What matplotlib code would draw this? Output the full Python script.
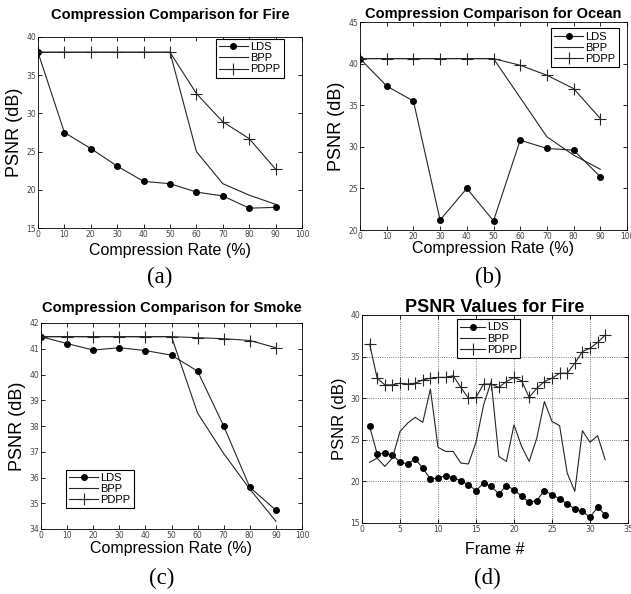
import matplotlib
matplotlib.use("Agg")
import matplotlib.pyplot as plt

# compression rates (%) for panels a-c
rates = [0, 10, 20, 30, 40, 50, 60, 70, 80, 90]

# (a) fire
fire_lds = [38.0, 27.5, 25.4, 23.1, 21.1, 20.8, 19.7, 19.2, 17.6, 17.7]
fire_bpp = [38.0, 38.0, 38.0, 38.0, 38.0, 38.0, 25.0, 20.8, 19.3, 18.1]
fire_pdpp = [38.0, 38.0, 38.0, 38.0, 38.0, 38.0, 32.6, 28.9, 26.7, 22.7]

# (b) ocean
ocean_lds = [40.6, 37.3, 35.5, 21.2, 25.0, 21.1, 30.8, 29.8, 29.6, 26.4]
ocean_bpp = [40.6, 40.6, 40.6, 40.6, 40.6, 40.6, 35.9, 31.2, 29.0, 27.3]
ocean_pdpp = [40.6, 40.6, 40.6, 40.6, 40.6, 40.6, 39.8, 38.6, 37.0, 33.4]

# (c) smoke
smoke_lds = [41.47, 41.2, 40.95, 41.04, 40.93, 40.75, 40.13, 38.0, 35.62, 34.73]
smoke_bpp = [41.47, 41.47, 41.47, 41.47, 41.47, 41.47, 38.5, 36.93, 35.55, 34.3]
smoke_pdpp = [41.47, 41.47, 41.47, 41.47, 41.47, 41.47, 41.43, 41.39, 41.32, 41.04]

# (d) per-frame PSNR for fire
frames = list(range(1, 33))
frame_lds = [26.6, 23.3, 23.4, 23.2, 22.3, 22.1, 22.7, 21.6, 20.3, 20.4,
             20.7, 20.4, 20.1, 19.6, 18.9, 19.8, 19.4, 18.5, 19.5, 19.0,
             18.2, 17.5, 17.7, 18.9, 18.4, 17.9, 17.3, 16.7, 16.4, 15.7,
             16.9, 16.0]
frame_bpp = [22.3, 22.8, 21.8, 22.8, 26.0, 27.0, 27.7, 27.1, 31.1, 24.1,
             23.6, 23.6, 22.2, 22.1, 24.7, 29.2, 32.0, 23.0, 22.4, 26.8,
             24.2, 22.4, 25.2, 29.6, 27.2, 26.7, 21.0, 18.8, 26.1, 24.7,
             25.5, 22.6]
frame_pdpp = [36.5, 32.4, 31.6, 31.6, 31.8, 31.7, 31.8, 32.2, 32.4, 32.5,
              32.5, 32.7, 31.3, 30.0, 30.1, 31.7, 31.7, 31.3, 32.0, 32.5,
              32.1, 30.1, 31.2, 32.0, 32.4, 33.0, 33.0, 34.2, 35.6, 36.0,
              36.7, 37.6]

W, H = 631, 594
LC = "#262626"


def px_axes(fig, left, top, right, bottom):
    return fig.add_axes([left / W, (H - bottom) / H, (right - left) / W, (bottom - top) / H])


def draw_series(ax, x, lds, bpp, pdpp):
    ax.plot(x, lds, color=LC, lw=0.8, marker="o", ms=4, mfc="black", mec="black", label="LDS")
    ax.plot(x, bpp, color=LC, lw=0.8, label="BPP")
    ax.plot(x, pdpp, color=LC, lw=0.8, marker="+", ms=8.5, mew=0.8, label="PDPP")


def style(ax, title, title_size, pad, xlabel, xpad, ylab_size):
    ax.set_title(title, fontsize=title_size, fontweight="bold", pad=pad, family="Liberation Sans")
    ax.set_xlabel(xlabel, fontsize=11.5, labelpad=xpad, family="Liberation Sans")
    ax.set_ylabel("PSNR (dB)", fontsize=ylab_size, labelpad=2, family="Liberation Sans")
    ax.tick_params(direction="in", top=True, right=True, labelsize=5.5, length=3, width=0.6,
                   pad=1.5, labelcolor="#444444")
    for s in ax.spines.values():
        s.set_linewidth(0.6)


def legend(ax, hl=2.6, **kw):
    leg = ax.legend(fancybox=False, edgecolor="black", framealpha=1,
                    borderpad=0.3, labelspacing=0.1, handlelength=hl, handletextpad=0.2,
                    borderaxespad=0.0, prop={"family": "Liberation Sans", "size": 8}, **kw)
    leg.get_frame().set_linewidth(0.8)


fig = plt.figure(figsize=(W / 100, H / 100), dpi=100)

# (a)
ax = px_axes(fig, 38, 37, 302, 228)
draw_series(ax, rates, fire_lds, fire_bpp, fire_pdpp)
ax.set_xlim(0, 100)
ax.set_ylim(15, 40)
ax.set_xticks(range(0, 101, 10))
ax.set_yticks(range(15, 41, 5))
style(ax, "Compression Comparison for Fire", 10.5, 13, "Compression Rate (%)", 3, 13)
legend(ax, loc="upper right", bbox_to_anchor=(0.93, 0.99))

# (b)
ax = px_axes(fig, 360, 22, 627, 230)
draw_series(ax, rates, ocean_lds, ocean_bpp, ocean_pdpp)
ax.set_xlim(0, 100)
ax.set_ylim(20, 45)
ax.set_xticks(range(0, 101, 10))
ax.set_yticks(range(20, 46, 5))
style(ax, "Compression Comparison for Ocean", 10.5, 3, "Compression Rate (%)", 0, 13)
legend(ax, loc="upper right", bbox_to_anchor=(0.97, 0.97))

# (c)
ax = px_axes(fig, 41, 323, 302, 529)
draw_series(ax, rates, smoke_lds, smoke_bpp, smoke_pdpp)
ax.set_xlim(0, 100)
ax.set_ylim(34, 42)
ax.set_xticks(range(0, 101, 10))
ax.set_yticks(range(34, 43, 1))
style(ax, "Compression Comparison for Smoke", 10.5, 8, "Compression Rate (%)", 1, 13)
legend(ax, loc="lower left", bbox_to_anchor=(0.096, 0.10))

# (d)
ax = px_axes(fig, 362, 315, 628, 523)
draw_series(ax, frames, frame_lds, frame_bpp, frame_pdpp)
ax.set_xlim(0, 35)
ax.set_ylim(15, 40)
ax.set_xticks(range(0, 36, 5))
ax.set_yticks(range(15, 41, 5))
ax.grid(True, linestyle=":", color="#555555", linewidth=0.6)
style(ax, "PSNR Values for Fire", 13, 2, "Frame #", 6, 12)
legend(ax, hl=2.2, loc="upper left", bbox_to_anchor=(0.357, 0.98))

# panel captions
for label, x, y in [("(a)", 160, 277), ("(b)", 488, 277), ("(c)", 162, 578), ("(d)", 487, 578)]:
    fig.text(x / W, 1 - y / H, label, ha="center", va="center", fontsize=16.5, family="Liberation Serif")

fig.savefig("out.png", dpi=100)
